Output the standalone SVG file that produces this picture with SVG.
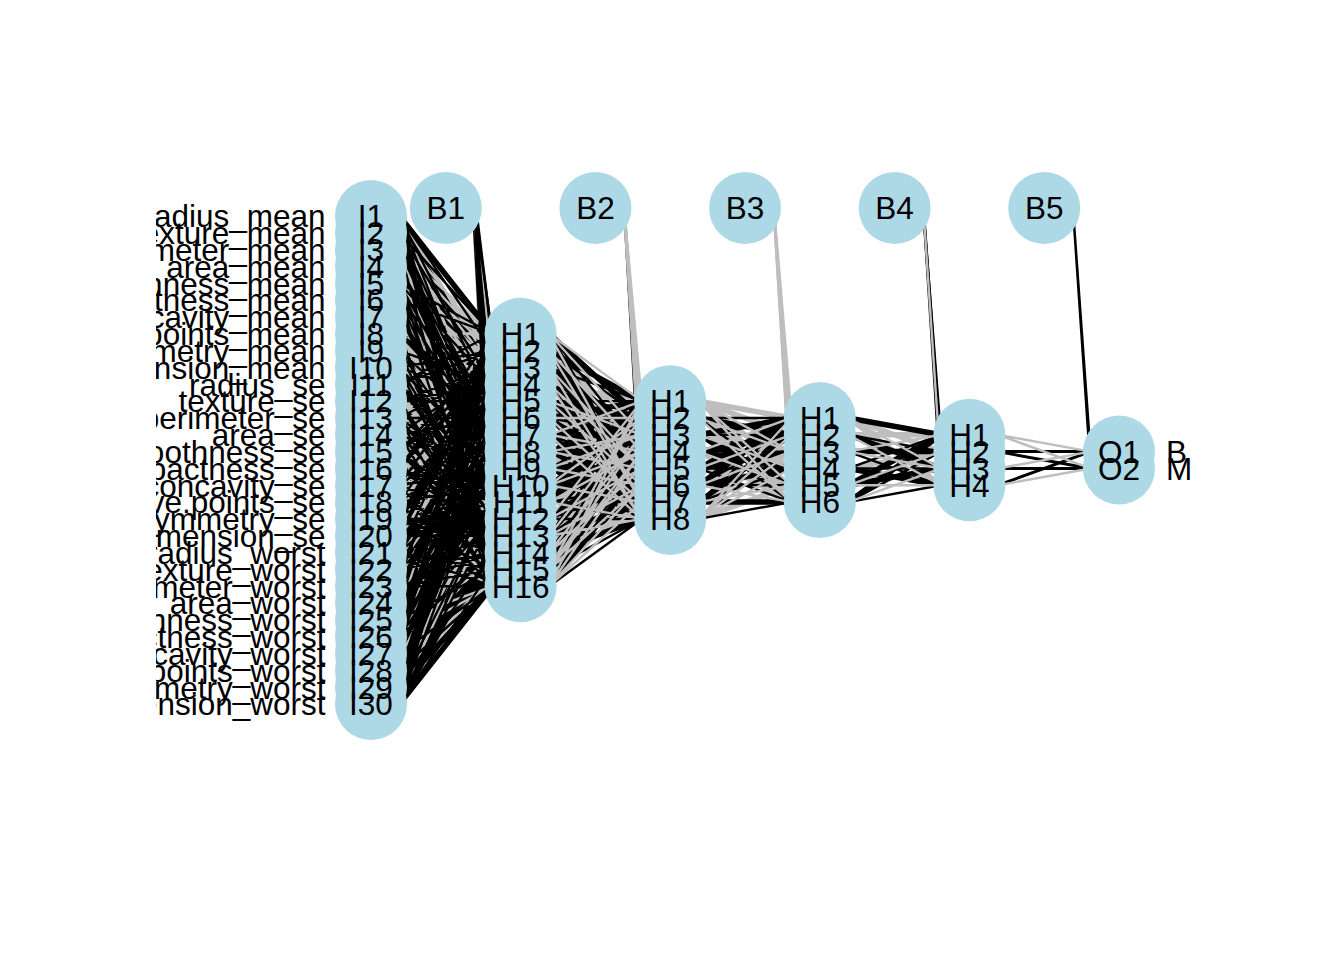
<svg xmlns="http://www.w3.org/2000/svg" width="1344" height="960" viewBox="0 0 1344 960">
<style>
text{font-family:"Liberation Sans",Arial,sans-serif;font-size:31.5px;fill:#000}
.n{fill:#ADD8E6}
.c{text-anchor:middle}
.e{text-anchor:end}
#connectors path{fill:none}
.B{stroke:#000;stroke-width:5.5}
.M{stroke:#000;stroke-width:3}
.b{stroke:#000;stroke-width:2.4}
.G{stroke:#BEBEBE;stroke-width:5.5}
.m{stroke:#BEBEBE;stroke-width:3}
.g{stroke:#BEBEBE;stroke-width:2.4}
</style>
<defs><clipPath id="plotclip"><rect x="156" y="0" width="1188" height="960"/></clipPath></defs>
<rect width="1344" height="960" fill="#fff"/>
<g id="connectors">
<g id="links-input-h1" transform="matrix(92.6 0 0 16.83 399.5 216)">
<path class="G" vector-effect="non-scaling-stroke" d="M0 0 1 12M0 0 1 15M0 0 1 22M0 1 1 9M0 1 1 16M0 1 1 19M0 2 1 10M0 2 1 11M0 2 1 20M0 2 1 21M0 3 1 7M0 3 1 16M0 3 1 17M0 4 1 8M0 4 1 11M0 4 1 18M0 4 1 21M0 5 1 10M0 5 1 13M0 5 1 20M0 6 1 12M0 6 1 13M0 6 1 22M0 7 1 14M0 7 1 15M0 8 1 7M0 8 1 14M0 8 1 17M0 9 1 7M0 9 1 14M0 9 1 17M0 10 1 14M0 10 1 15M0 11 1 12M0 11 1 13M0 11 1 22M0 12 1 10M0 12 1 13M0 12 1 20M0 13 1 8M0 13 1 11M0 13 1 18M0 13 1 21M0 14 1 7M0 14 1 16M0 14 1 17M0 15 1 10M0 15 1 11M0 15 1 20M0 15 1 21M0 16 1 9M0 16 1 16M0 16 1 19M0 17 1 12M0 17 1 15M0 17 1 22M0 18 1 7M0 18 1 17M0 19 1 10M0 19 1 20M0 20 1 9M0 20 1 19M0 21 1 12M0 21 1 22M0 22 1 9M0 22 1 19M0 23 1 8M0 23 1 18M0 24 1 15M0 25 1 16M0 26 1 11M0 26 1 21M0 27 1 16M0 28 1 11M0 28 1 21M0 29 1 10M0 29 1 20M0.81 -0.48 1 10M0.81 -0.48 1 15M0.81 -0.48 1 21"/>
<path class="B" vector-effect="non-scaling-stroke" d="M0 0 1 7M0 0 1 10M0 0 1 17M0 0 1 20M0 1 1 11M0 1 1 14M0 1 1 21M0 2 1 15M0 2 1 16M0 3 1 11M0 3 1 12M0 3 1 21M0 3 1 22M0 4 1 13M0 4 1 16M0 5 1 8M0 5 1 15M0 5 1 18M0 6 1 7M0 6 1 8M0 6 1 17M0 6 1 18M0 7 1 9M0 7 1 10M0 7 1 19M0 7 1 20M0 8 1 9M0 8 1 12M0 8 1 19M0 8 1 22M0 9 1 9M0 9 1 12M0 9 1 19M0 9 1 22M0 10 1 9M0 10 1 10M0 10 1 19M0 10 1 20M0 11 1 7M0 11 1 8M0 11 1 17M0 11 1 18M0 12 1 8M0 12 1 15M0 12 1 18M0 13 1 13M0 13 1 16M0 14 1 11M0 14 1 12M0 14 1 21M0 14 1 22M0 15 1 15M0 15 1 16M0 16 1 11M0 16 1 14M0 16 1 21M0 17 1 7M0 17 1 10M0 17 1 17M0 17 1 20M0 18 1 12M0 18 1 13M0 18 1 14M0 18 1 22M0 19 1 13M0 19 1 14M0 19 1 15M0 20 1 7M0 20 1 10M0 20 1 14M0 20 1 17M0 20 1 20M0 21 1 7M0 21 1 11M0 21 1 14M0 21 1 17M0 21 1 21M0 22 1 14M0 22 1 15M0 22 1 16M0 23 1 11M0 23 1 12M0 23 1 13M0 23 1 21M0 23 1 22M0 24 1 10M0 24 1 13M0 24 1 16M0 24 1 20M0 25 1 8M0 25 1 11M0 25 1 15M0 25 1 18M0 25 1 21M0 26 1 7M0 26 1 8M0 26 1 16M0 26 1 17M0 26 1 18M0 27 1 9M0 27 1 10M0 27 1 11M0 27 1 19M0 27 1 20M0 27 1 21M0 28 1 9M0 28 1 12M0 28 1 16M0 28 1 19M0 28 1 22M0 29 1 9M0 29 1 12M0 29 1 15M0 29 1 19M0 29 1 22M0.81 -0.48 1 8M0.81 -0.48 1 13M0.81 -0.48 1 18"/>
<path class="g" vector-effect="non-scaling-stroke" d="M0 0 1 9M0 0 1 13M0 0 1 16M0 0 1 19M0 1 1 8M0 1 1 12M0 1 1 15M0 1 1 18M0 1 1 22M0 2 1 7M0 2 1 8M0 2 1 9M0 2 1 17M0 2 1 18M0 2 1 19M0 3 1 8M0 3 1 9M0 3 1 10M0 3 1 18M0 3 1 19M0 3 1 20M0 4 1 9M0 4 1 12M0 4 1 15M0 4 1 19M0 4 1 22M0 5 1 9M0 5 1 12M0 5 1 16M0 5 1 19M0 5 1 22M0 6 1 9M0 6 1 10M0 6 1 11M0 6 1 19M0 6 1 20M0 6 1 21M0 7 1 7M0 7 1 8M0 7 1 16M0 7 1 17M0 7 1 18M0 8 1 8M0 8 1 11M0 8 1 15M0 8 1 18M0 8 1 21M0 9 1 10M0 9 1 13M0 9 1 16M0 9 1 20M0 10 1 11M0 10 1 12M0 10 1 13M0 10 1 21M0 10 1 22M0 11 1 14M0 11 1 15M0 11 1 16M0 12 1 7M0 12 1 11M0 12 1 14M0 12 1 17M0 12 1 21M0 13 1 7M0 13 1 10M0 13 1 14M0 13 1 17M0 13 1 20M0 14 1 13M0 14 1 14M0 14 1 15M0 15 1 12M0 15 1 13M0 15 1 14M0 15 1 22M0 16 1 7M0 16 1 10M0 16 1 13M0 16 1 17M0 16 1 20M0 17 1 8M0 17 1 11M0 17 1 14M0 17 1 18M0 17 1 21M0 18 1 15M0 18 1 16M0 19 1 11M0 19 1 12M0 19 1 21M0 19 1 22M0 20 1 13M0 20 1 16M0 21 1 8M0 21 1 15M0 21 1 18M0 22 1 7M0 22 1 8M0 22 1 17M0 22 1 18M0 23 1 9M0 23 1 10M0 23 1 19M0 23 1 20M0 24 1 9M0 24 1 12M0 24 1 19M0 24 1 22M0 25 1 9M0 25 1 12M0 25 1 19M0 25 1 22M0 26 1 9M0 26 1 10M0 26 1 19M0 26 1 20M0 27 1 7M0 27 1 8M0 27 1 17M0 27 1 18M0 28 1 8M0 28 1 15M0 28 1 18M0 29 1 13M0 29 1 16M0.81 -0.48 1 9M0.81 -0.48 1 12M0.81 -0.48 1 16M0.81 -0.48 1 19"/>
<path class="b" vector-effect="non-scaling-stroke" d="M0 0 1 8M0 0 1 11M0 0 1 14M0 0 1 18M0 0 1 21M0 1 1 7M0 1 1 10M0 1 1 13M0 1 1 17M0 1 1 20M0 2 1 12M0 2 1 13M0 2 1 14M0 2 1 22M0 3 1 13M0 3 1 14M0 3 1 15M0 4 1 7M0 4 1 10M0 4 1 14M0 4 1 17M0 4 1 20M0 5 1 7M0 5 1 11M0 5 1 14M0 5 1 17M0 5 1 21M0 6 1 14M0 6 1 15M0 6 1 16M0 7 1 11M0 7 1 12M0 7 1 13M0 7 1 21M0 7 1 22M0 8 1 10M0 8 1 13M0 8 1 16M0 8 1 20M0 9 1 8M0 9 1 11M0 9 1 15M0 9 1 18M0 9 1 21M0 10 1 7M0 10 1 8M0 10 1 16M0 10 1 17M0 10 1 18M0 11 1 9M0 11 1 10M0 11 1 11M0 11 1 19M0 11 1 20M0 11 1 21M0 12 1 9M0 12 1 12M0 12 1 16M0 12 1 19M0 12 1 22M0 13 1 9M0 13 1 12M0 13 1 15M0 13 1 19M0 13 1 22M0 14 1 8M0 14 1 9M0 14 1 10M0 14 1 18M0 14 1 19M0 14 1 20M0 15 1 7M0 15 1 8M0 15 1 9M0 15 1 17M0 15 1 18M0 15 1 19M0 16 1 8M0 16 1 12M0 16 1 15M0 16 1 18M0 16 1 22M0 17 1 9M0 17 1 13M0 17 1 16M0 17 1 19M0 18 1 8M0 18 1 9M0 18 1 10M0 18 1 11M0 18 1 18M0 18 1 19M0 18 1 20M0 18 1 21M0 19 1 7M0 19 1 8M0 19 1 9M0 19 1 16M0 19 1 17M0 19 1 18M0 19 1 19M0 20 1 8M0 20 1 11M0 20 1 12M0 20 1 15M0 20 1 18M0 20 1 21M0 20 1 22M0 21 1 9M0 21 1 10M0 21 1 13M0 21 1 16M0 21 1 19M0 21 1 20M0 22 1 10M0 22 1 11M0 22 1 12M0 22 1 13M0 22 1 20M0 22 1 21M0 22 1 22M0 23 1 7M0 23 1 14M0 23 1 15M0 23 1 16M0 23 1 17M0 24 1 7M0 24 1 8M0 24 1 11M0 24 1 14M0 24 1 17M0 24 1 18M0 24 1 21M0 25 1 7M0 25 1 10M0 25 1 13M0 25 1 14M0 25 1 17M0 25 1 20M0 26 1 12M0 26 1 13M0 26 1 14M0 26 1 15M0 26 1 22M0 27 1 12M0 27 1 13M0 27 1 14M0 27 1 15M0 27 1 22M0 28 1 7M0 28 1 10M0 28 1 13M0 28 1 14M0 28 1 17M0 28 1 20M0 29 1 7M0 29 1 8M0 29 1 11M0 29 1 14M0 29 1 17M0 29 1 18M0 29 1 21M0.81 -0.48 1 7M0.81 -0.48 1 11M0.81 -0.48 1 14M0.81 -0.48 1 17M0.81 -0.48 1 20M0.81 -0.48 1 22"/>
</g>
<g id="links-h1-h2" transform="matrix(92.6 0 0 16.83 456.5 216)">
<path class="G" vector-effect="non-scaling-stroke" d="M1 7 2 15M1 9 2 12M1 9 2 17M1 10 2 11M1 10 2 16M1 11 2 18M1 12 2 14M1 13 2 16M1 14 2 18M1 15 2 11M1 16 2 18M1 17 2 12M1 17 2 15M1 18 2 13M1 18 2 17M1 19 2 14M1 20 2 11M1 20 2 16M1 21 2 17M1 22 2 12"/>
<path class="B" vector-effect="non-scaling-stroke" d="M1 7 2 12M1 8 2 11M1 8 2 16M1 9 2 13M1 10 2 14M1 11 2 12M1 11 2 15M1 12 2 11M1 12 2 16M1 13 2 13M1 13 2 17M1 14 2 12M1 14 2 14M1 15 2 15M1 15 2 17M1 16 2 13M1 16 2 16M1 17 2 11M1 18 2 14M1 19 2 17M1 20 2 18M1 21 2 12M1 22 2 15"/>
<path class="b" vector-effect="non-scaling-stroke" d="M1 7 2 14M1 7 2 16M1 7 2 18M1 8 2 12M1 8 2 15M1 8 2 18M1 9 2 11M1 9 2 14M1 9 2 16M1 10 2 12M1 10 2 13M1 10 2 17M1 11 2 11M1 11 2 14M1 11 2 17M1 12 2 13M1 12 2 15M1 12 2 18M1 13 2 12M1 13 2 15M1 14 2 11M1 14 2 16M1 14 2 17M1 15 2 12M1 15 2 14M1 15 2 18M1 16 2 11M1 16 2 15M1 17 2 13M1 17 2 16M1 17 2 17M1 18 2 12M1 18 2 16M1 18 2 18M1 19 2 11M1 19 2 13M1 19 2 15M1 20 2 12M1 20 2 14M1 20 2 17M1 21 2 15M1 21 2 18M1 22 2 13M1 22 2 18M1.81 -0.48 2 13M1.81 -0.48 2 18"/>
<path class="m" vector-effect="non-scaling-stroke" d="M1.81 -0.48 2 15"/>
<path class="g" vector-effect="non-scaling-stroke" d="M1 7 2 11M1 7 2 13M1 7 2 17M1 8 2 14M1 8 2 17M1 9 2 15M1 9 2 18M1 10 2 15M1 10 2 18M1 11 2 13M1 11 2 16M1 12 2 12M1 12 2 17M1 13 2 11M1 13 2 14M1 13 2 18M1 14 2 13M1 14 2 15M1 15 2 13M1 15 2 16M1 16 2 12M1 16 2 14M1 16 2 17M1 17 2 14M1 17 2 18M1 18 2 11M1 18 2 15M1 19 2 12M1 19 2 16M1 19 2 18M1 20 2 13M1 20 2 15M1 21 2 11M1 21 2 13M1 21 2 14M1 21 2 16M1 22 2 11M1 22 2 14M1 22 2 16M1 22 2 17M1.81 -0.48 2 11M1.81 -0.48 2 12M1.81 -0.48 2 14M1.81 -0.48 2 16M1.81 -0.48 2 17"/>
</g>
<g id="links-h2-h3" transform="matrix(92.6 0 0 16.83 513.5 216)">
<path class="G" vector-effect="non-scaling-stroke" d="M2 11 3 12M2 11 3 13M2 11 3 15M2 12 3 15M2 13 3 14M2 14 3 17M2 15 3 16M2 17 3 14M2 18 3 16"/>
<path class="B" vector-effect="non-scaling-stroke" d="M2 12 3 13M2 13 3 12M2 13 3 16M2 14 3 13M2 14 3 15M2 15 3 12M2 15 3 14M2 16 3 12M2 16 3 15M2 17 3 13M2 17 3 17"/>
<path class="b" vector-effect="non-scaling-stroke" d="M2 12 3 12M2 12 3 16M2 13 3 13M2 13 3 17M2 14 3 14M2 15 3 15M2 15 3 17M2 16 3 13M2 16 3 16M2 17 3 12M2 17 3 15M2 18 3 17M2.81 -0.48 3 14"/>
<path class="m" vector-effect="non-scaling-stroke" d="M2.81 -0.48 3 12M2.81 -0.48 3 16"/>
<path class="g" vector-effect="non-scaling-stroke" d="M2 11 3 14M2 11 3 16M2 11 3 17M2 12 3 14M2 12 3 17M2 13 3 15M2 14 3 12M2 14 3 16M2 15 3 13M2 16 3 14M2 16 3 17M2 17 3 16M2 18 3 12M2 18 3 13M2 18 3 14M2 18 3 15M2.81 -0.48 3 13M2.81 -0.48 3 15M2.81 -0.48 3 17"/>
</g>
<g id="links-h3-h4" transform="matrix(92.6 0 0 16.83 570.5 216)">
<path class="G" vector-effect="non-scaling-stroke" d="M3 12 4 14M3 12 4 16M3 13 4 13M3 15 4 14"/>
<path class="B" vector-effect="non-scaling-stroke" d="M3 12 4 13M3 13 4 15M3 14 4 14M3 15 4 16M3 16 4 13M3 16 4 15M3 17 4 13"/>
<path class="b" vector-effect="non-scaling-stroke" d="M3 13 4 14M3 14 4 16M3 15 4 13M3 15 4 15M3 17 4 14M3 17 4 16M3.81 -0.48 4 13M3.81 -0.48 4 16"/>
<path class="M" vector-effect="non-scaling-stroke" d="M3.81 -0.48 4 14"/>
<path class="g" vector-effect="non-scaling-stroke" d="M3 12 4 15M3 13 4 16M3 14 4 13M3 14 4 15M3 16 4 14M3 16 4 16M3 17 4 15M3.81 -0.48 4 15"/>
</g>
<g id="links-h4-out" transform="matrix(92.6 0 0 16.83 627.5 216)">
<path class="M" vector-effect="non-scaling-stroke" d="M4 14 5 14M4 15 5 15M4 14 5 15M4 16 5 14"/>
<path class="g" vector-effect="non-scaling-stroke" d="M4 13 5 14M4 13 5 15M4 15 5 14M4 16 5 15"/>
<path class="b" vector-effect="non-scaling-stroke" d="M4.81 -0.48 5 14M4.81 -0.48 5 15"/>
</g>
</g>
<g id="nodes">
<g id="input-layer">
<g id="I1"><circle class="n" cx="371" cy="216" r="36"/></g>
<g id="I2"><circle class="n" cx="371" cy="232.83" r="36"/></g>
<g id="I3"><circle class="n" cx="371" cy="249.66" r="36"/></g>
<g id="I4"><circle class="n" cx="371" cy="266.49" r="36"/></g>
<g id="I5"><circle class="n" cx="371" cy="283.32" r="36"/></g>
<g id="I6"><circle class="n" cx="371" cy="300.15" r="36"/></g>
<g id="I7"><circle class="n" cx="371" cy="316.98" r="36"/></g>
<g id="I8"><circle class="n" cx="371" cy="333.81" r="36"/></g>
<g id="I9"><circle class="n" cx="371" cy="350.64" r="36"/></g>
<g id="I10"><circle class="n" cx="371" cy="367.47" r="36"/></g>
<g id="I11"><circle class="n" cx="371" cy="384.3" r="36"/></g>
<g id="I12"><circle class="n" cx="371" cy="401.13" r="36"/></g>
<g id="I13"><circle class="n" cx="371" cy="417.96" r="36"/></g>
<g id="I14"><circle class="n" cx="371" cy="434.79" r="36"/></g>
<g id="I15"><circle class="n" cx="371" cy="451.62" r="36"/></g>
<g id="I16"><circle class="n" cx="371" cy="468.45" r="36"/></g>
<g id="I17"><circle class="n" cx="371" cy="485.28" r="36"/></g>
<g id="I18"><circle class="n" cx="371" cy="502.11" r="36"/></g>
<g id="I19"><circle class="n" cx="371" cy="518.94" r="36"/></g>
<g id="I20"><circle class="n" cx="371" cy="535.77" r="36"/></g>
<g id="I21"><circle class="n" cx="371" cy="552.6" r="36"/></g>
<g id="I22"><circle class="n" cx="371" cy="569.43" r="36"/></g>
<g id="I23"><circle class="n" cx="371" cy="586.26" r="36"/></g>
<g id="I24"><circle class="n" cx="371" cy="603.09" r="36"/></g>
<g id="I25"><circle class="n" cx="371" cy="619.92" r="36"/></g>
<g id="I26"><circle class="n" cx="371" cy="636.75" r="36"/></g>
<g id="I27"><circle class="n" cx="371" cy="653.58" r="36"/></g>
<g id="I28"><circle class="n" cx="371" cy="670.41" r="36"/></g>
<g id="I29"><circle class="n" cx="371" cy="687.24" r="36"/></g>
<g id="I30"><circle class="n" cx="371" cy="704.07" r="36"/></g>
</g>
<g id="hidden-layer-1">
<g id="L1-H1"><circle class="n" cx="520.6" cy="333.81" r="36"/></g>
<g id="L1-H2"><circle class="n" cx="520.6" cy="350.64" r="36"/></g>
<g id="L1-H3"><circle class="n" cx="520.6" cy="367.47" r="36"/></g>
<g id="L1-H4"><circle class="n" cx="520.6" cy="384.3" r="36"/></g>
<g id="L1-H5"><circle class="n" cx="520.6" cy="401.13" r="36"/></g>
<g id="L1-H6"><circle class="n" cx="520.6" cy="417.96" r="36"/></g>
<g id="L1-H7"><circle class="n" cx="520.6" cy="434.79" r="36"/></g>
<g id="L1-H8"><circle class="n" cx="520.6" cy="451.62" r="36"/></g>
<g id="L1-H9"><circle class="n" cx="520.6" cy="468.45" r="36"/></g>
<g id="L1-H10"><circle class="n" cx="520.6" cy="485.28" r="36"/></g>
<g id="L1-H11"><circle class="n" cx="520.6" cy="502.11" r="36"/></g>
<g id="L1-H12"><circle class="n" cx="520.6" cy="518.94" r="36"/></g>
<g id="L1-H13"><circle class="n" cx="520.6" cy="535.77" r="36"/></g>
<g id="L1-H14"><circle class="n" cx="520.6" cy="552.6" r="36"/></g>
<g id="L1-H15"><circle class="n" cx="520.6" cy="569.43" r="36"/></g>
<g id="L1-H16"><circle class="n" cx="520.6" cy="586.26" r="36"/></g>
</g>
<g id="hidden-layer-2">
<g id="L2-H1"><circle class="n" cx="670.2" cy="401.13" r="36"/></g>
<g id="L2-H2"><circle class="n" cx="670.2" cy="417.96" r="36"/></g>
<g id="L2-H3"><circle class="n" cx="670.2" cy="434.79" r="36"/></g>
<g id="L2-H4"><circle class="n" cx="670.2" cy="451.62" r="36"/></g>
<g id="L2-H5"><circle class="n" cx="670.2" cy="468.45" r="36"/></g>
<g id="L2-H6"><circle class="n" cx="670.2" cy="485.28" r="36"/></g>
<g id="L2-H7"><circle class="n" cx="670.2" cy="502.11" r="36"/></g>
<g id="L2-H8"><circle class="n" cx="670.2" cy="518.94" r="36"/></g>
</g>
<g id="hidden-layer-3">
<g id="L3-H1"><circle class="n" cx="819.8" cy="417.96" r="36"/></g>
<g id="L3-H2"><circle class="n" cx="819.8" cy="434.79" r="36"/></g>
<g id="L3-H3"><circle class="n" cx="819.8" cy="451.62" r="36"/></g>
<g id="L3-H4"><circle class="n" cx="819.8" cy="468.45" r="36"/></g>
<g id="L3-H5"><circle class="n" cx="819.8" cy="485.28" r="36"/></g>
<g id="L3-H6"><circle class="n" cx="819.8" cy="502.11" r="36"/></g>
</g>
<g id="hidden-layer-4">
<g id="L4-H1"><circle class="n" cx="969.4" cy="434.79" r="36"/></g>
<g id="L4-H2"><circle class="n" cx="969.4" cy="451.62" r="36"/></g>
<g id="L4-H3"><circle class="n" cx="969.4" cy="468.45" r="36"/></g>
<g id="L4-H4"><circle class="n" cx="969.4" cy="485.28" r="36"/></g>
</g>
<g id="output-layer">
<g id="O1"><circle class="n" cx="1119" cy="451.62" r="36"/></g>
<g id="O2"><circle class="n" cx="1119" cy="468.45" r="36"/></g>
</g>
<g id="bias-nodes">
<g id="B1"><circle class="n" cx="445.8" cy="208" r="36"/><text class="c" x="445.8" y="219.3">B1</text></g>
<g id="B2"><circle class="n" cx="595.4" cy="208" r="36"/><text class="c" x="595.4" y="219.3">B2</text></g>
<g id="B3"><circle class="n" cx="745" cy="208" r="36"/><text class="c" x="745" y="219.3">B3</text></g>
<g id="B4"><circle class="n" cx="894.6" cy="208" r="36"/><text class="c" x="894.6" y="219.3">B4</text></g>
<g id="B5"><circle class="n" cx="1044.2" cy="208" r="36"/><text class="c" x="1044.2" y="219.3">B5</text></g>
</g>
</g>
<g id="node-labels" class="c" transform="translate(0,0.8)">
<text x="371" y="226.5">I1</text>
<text x="371" y="243.33">I2</text>
<text x="371" y="260.16">I3</text>
<text x="371" y="276.99">I4</text>
<text x="371" y="293.82">I5</text>
<text x="371" y="310.65">I6</text>
<text x="371" y="327.48">I7</text>
<text x="371" y="344.31">I8</text>
<text x="371" y="361.14">I9</text>
<text x="371" y="377.97">I10</text>
<text x="371" y="394.8">I11</text>
<text x="371" y="411.63">I12</text>
<text x="371" y="428.46">I13</text>
<text x="371" y="445.29">I14</text>
<text x="371" y="462.12">I15</text>
<text x="371" y="478.95">I16</text>
<text x="371" y="495.78">I17</text>
<text x="371" y="512.61">I18</text>
<text x="371" y="529.44">I19</text>
<text x="371" y="546.27">I20</text>
<text x="371" y="563.1">I21</text>
<text x="371" y="579.93">I22</text>
<text x="371" y="596.76">I23</text>
<text x="371" y="613.59">I24</text>
<text x="371" y="630.42">I25</text>
<text x="371" y="647.25">I26</text>
<text x="371" y="664.08">I27</text>
<text x="371" y="680.91">I28</text>
<text x="371" y="697.74">I29</text>
<text x="371" y="714.57">I30</text>
<text x="520.6" y="344.31">H1</text>
<text x="520.6" y="361.14">H2</text>
<text x="520.6" y="377.97">H3</text>
<text x="520.6" y="394.8">H4</text>
<text x="520.6" y="411.63">H5</text>
<text x="520.6" y="428.46">H6</text>
<text x="520.6" y="445.29">H7</text>
<text x="520.6" y="462.12">H8</text>
<text x="520.6" y="478.95">H9</text>
<text x="520.6" y="495.78">H10</text>
<text x="520.6" y="512.61">H11</text>
<text x="520.6" y="529.44">H12</text>
<text x="520.6" y="546.27">H13</text>
<text x="520.6" y="563.1">H14</text>
<text x="520.6" y="579.93">H15</text>
<text x="520.6" y="596.76">H16</text>
<text x="670.2" y="411.63">H1</text>
<text x="670.2" y="428.46">H2</text>
<text x="670.2" y="445.29">H3</text>
<text x="670.2" y="462.12">H4</text>
<text x="670.2" y="478.95">H5</text>
<text x="670.2" y="495.78">H6</text>
<text x="670.2" y="512.61">H7</text>
<text x="670.2" y="529.44">H8</text>
<text x="819.8" y="428.46">H1</text>
<text x="819.8" y="445.29">H2</text>
<text x="819.8" y="462.12">H3</text>
<text x="819.8" y="478.95">H4</text>
<text x="819.8" y="495.78">H5</text>
<text x="819.8" y="512.61">H6</text>
<text x="969.4" y="445.29">H1</text>
<text x="969.4" y="462.12">H2</text>
<text x="969.4" y="478.95">H3</text>
<text x="969.4" y="495.78">H4</text>
<text x="1119" y="462.12">O1</text>
<text x="1119" y="478.95">O2</text>
</g>
<g id="input-names" class="e" clip-path="url(#plotclip)">
<g transform="translate(0,0.8)">
<text x="325.5" y="226.5">radius_mean</text>
<text x="325.5" y="243.33">texture_mean</text>
<text x="325.5" y="260.16">perimeter_mean</text>
<text x="325.5" y="276.99">area_mean</text>
<text x="325.5" y="293.82">smoothness_mean</text>
<text x="325.5" y="310.65">compactness_mean</text>
<text x="325.5" y="327.48">concavity_mean</text>
<text x="325.5" y="344.31">concave.points_mean</text>
<text x="325.5" y="361.14">symmetry_mean</text>
<text x="325.5" y="377.97">fractal_dimension_mean</text>
<text x="325.5" y="394.8">radius_se</text>
<text x="325.5" y="411.63">texture_se</text>
<text x="325.5" y="428.46">perimeter_se</text>
<text x="325.5" y="445.29">area_se</text>
<text x="325.5" y="462.12">smoothness_se</text>
<text x="325.5" y="478.95">compactness_se</text>
<text x="325.5" y="495.78">concavity_se</text>
<text x="325.5" y="512.61">concave.points_se</text>
<text x="325.5" y="529.44">symmetry_se</text>
<text x="325.5" y="546.27">fractal_dimension_se</text>
<text x="325.5" y="563.1">radius_worst</text>
<text x="325.5" y="579.93">texture_worst</text>
<text x="325.5" y="596.76">perimeter_worst</text>
<text x="325.5" y="613.59">area_worst</text>
<text x="325.5" y="630.42">smoothness_worst</text>
<text x="325.5" y="647.25">compactness_worst</text>
<text x="325.5" y="664.08">concavity_worst</text>
<text x="325.5" y="680.91">concave.points_worst</text>
<text x="325.5" y="697.74">symmetry_worst</text>
<text x="325.5" y="714.57">fractal_dimension_worst</text>
</g>
</g>
<g id="output-names">
<text x="1166" y="462.9">B</text>
<text x="1166" y="479.75">M</text>
</g>
</svg>
